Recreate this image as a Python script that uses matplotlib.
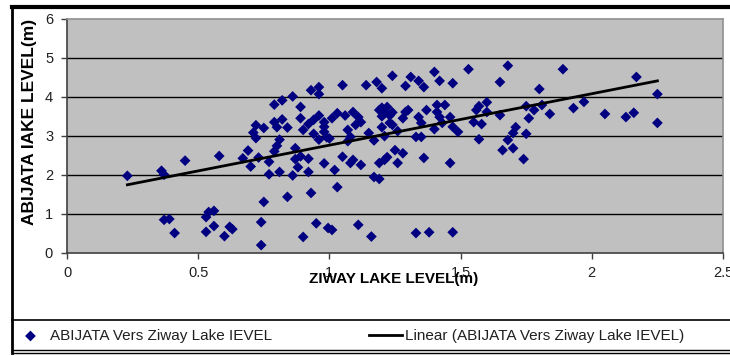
import matplotlib
matplotlib.use("Agg")
import matplotlib.pyplot as plt
from matplotlib.lines import Line2D

# Ziway (x) vs Abijata (y) lake levels, metres
ziway = [
    0.23, 0.36, 0.37, 0.45, 0.58, 0.37, 0.39, 0.41, 0.53, 0.54, 0.56, 0.53, 0.56,
    0.60, 0.62, 0.63, 0.74, 0.75, 0.74, 0.84, 0.93, 0.90, 0.95, 0.995, 1.01, 1.03,
    1.11, 1.16, 1.33, 1.38, 1.47,
    0.67, 0.69, 0.70, 0.73, 0.77, 0.72, 0.75, 0.71, 0.72, 0.79, 0.82, 0.86, 0.89,
    0.93, 0.96, 0.96, 0.79, 0.82, 0.80, 0.84, 0.89, 0.90, 0.92, 0.94, 0.96,
    0.94, 0.96, 0.98, 0.99, 0.98, 1.00, 0.98, 1.01, 1.03, 1.06, 1.09, 1.11, 1.12,
    1.07, 1.10, 1.08, 1.05, 1.14, 1.18, 1.20, 1.24, 1.15,
    0.79, 0.80, 0.81, 0.87, 0.87, 0.89, 0.92, 0.88, 0.77, 0.81, 0.86, 0.92,
    0.98, 1.02, 1.05, 1.08, 1.09, 1.12, 1.07, 1.17, 1.19, 1.19, 1.21, 1.22,
    1.17, 1.25, 1.19, 1.20, 1.22, 1.21, 1.23, 1.20, 1.24, 1.20, 1.23, 1.21,
    1.24,
    1.29, 1.31, 1.34, 1.36, 1.40, 1.42, 1.47, 1.53, 1.65, 1.68, 1.80, 1.89,
    2.17, 2.25, 2.25, 2.16, 2.13, 2.05, 1.97, 1.93, 1.84, 1.81, 1.78, 1.76,
    1.75, 1.71, 1.70, 1.68, 1.75, 1.70, 1.66, 1.74, 1.65, 1.60, 1.57, 1.56,
    1.60, 1.55, 1.58, 1.57, 1.46, 1.47, 1.49, 1.44, 1.41, 1.41, 1.42, 1.46,
    1.43, 1.40, 1.37, 1.35, 1.33, 1.35, 1.36, 1.34, 1.30, 1.29, 1.28, 1.26,
    1.28, 1.26,
]
abijata = [
    1.97, 2.10, 2.00, 2.36, 2.48, 0.84, 0.86, 0.50, 0.91, 1.04, 1.07, 0.53, 0.68,
    0.42, 0.66, 0.60, 0.78, 1.30, 0.19, 1.43, 1.53, 0.40, 0.75, 0.63, 0.58, 1.68,
    0.71, 0.41, 0.50, 0.52, 0.52,
    2.42, 2.62, 2.21, 2.44, 2.33, 3.27, 3.20, 3.08, 2.94, 3.80, 3.91, 4.01, 3.74,
    4.17, 4.25, 4.07, 3.35, 3.42, 3.22, 3.21, 3.45, 3.15, 3.30, 3.41, 3.52,
    3.05, 2.90, 3.10, 2.96, 3.23, 2.93, 3.35, 3.45, 3.58, 3.52, 3.61, 3.48, 3.35,
    3.15, 3.28, 2.97, 4.30, 4.30, 4.38, 4.22, 4.54, 3.07,
    2.60, 2.74, 2.90, 2.68, 2.40, 2.47, 2.41, 2.19, 2.01, 2.07, 1.98, 2.07,
    2.29, 2.12, 2.46, 2.30, 2.38, 2.25, 2.86, 1.94, 1.89, 2.30, 2.38, 2.45,
    2.88, 2.63, 3.66, 3.72, 3.74, 3.58, 3.52, 3.50, 3.60, 3.22, 3.33, 2.99,
    3.28,
    4.28, 4.51, 4.41, 4.25, 4.64, 4.41, 4.35, 4.71, 4.38, 4.80, 4.20, 4.71,
    4.51, 4.07, 3.33, 3.59, 3.48, 3.56, 3.87, 3.71, 3.56, 3.79, 3.66, 3.45,
    3.76, 3.22, 3.07, 2.89, 3.05, 2.68, 2.63, 2.40, 3.53, 3.86, 3.76, 3.66,
    3.61, 3.35, 3.30, 2.91, 3.48, 3.23, 3.10, 3.79, 3.79, 3.61, 3.48, 2.30,
    3.33, 3.17, 3.66, 3.33, 2.97, 2.97, 2.43, 3.48, 3.66, 3.61, 3.45, 3.12,
    2.55, 2.30,
]

# linear trend line end points
trend_x = [0.23, 2.25]
trend_y = [1.74, 4.41]

x_ticks = [0, 0.5, 1, 1.5, 2, 2.5]
x_tick_labels = ["0", "0.5", "1", "1.5", "2", "2.5"]
y_ticks = [0, 1, 2, 3, 4, 5, 6]

plt.rcParams["font.family"] = ["Liberation Sans", "DejaVu Sans"]

W, H = 730, 356
fig = plt.figure(figsize=(W / 100, H / 100), dpi=100)
ax = fig.add_axes([67 / W, 1 - 252.5 / H, (723 - 67) / W, (252.5 - 19) / H])
ax.set_facecolor("#c0c0c0")

for y in y_ticks[1:-1]:
    ax.axhline(y, color="black", lw=1.0, zorder=1)

pts = ax.scatter(ziway, abijata, marker="D", s=30, color="#000080",
                 edgecolors="none", zorder=3)
trend, = ax.plot(trend_x, trend_y, color="black", lw=2, zorder=4)

ax.set_xlim(0, 2.5)
ax.set_ylim(0, 6)
ax.set_xticks(x_ticks)
ax.set_xticklabels(x_tick_labels)
ax.set_yticks(y_ticks)
ax.tick_params(axis="both", direction="out", length=4, width=1,
               color="#404040", labelsize=10.5, labelcolor="#202020", pad=6)

for side in ["left", "bottom"]:
    ax.spines[side].set_color("#404040")
    ax.spines[side].set_linewidth(1.2)
for side in ["top", "right"]:
    ax.spines[side].set_color("#909090")
    ax.spines[side].set_linewidth(1.2)

fig.text(394 / W, 1 - 279 / H, "ZIWAY LAKE LEVEL(m)", fontsize=11,
         fontweight="bold", ha="center", va="center")
fig.text(30 / W, 1 - 122 / H, "ABIJATA IAKE LEVEL(m)", fontsize=12.5,
         fontweight="bold", ha="center", va="center", rotation=90)

# outer frame and legend strip
def hline(y, x0, x1, lw):
    fig.add_artist(Line2D([x0 / W, x1 / W], [1 - y / H, 1 - y / H],
                          color="black", lw=lw))

def vline(x, y0, y1, lw):
    fig.add_artist(Line2D([x / W, x / W], [1 - y0 / H, 1 - y1 / H],
                          color="black", lw=lw))

hline(7, 12, 730, 3)
vline(12, 6, 353, 2)
hline(320, 12, 730, 1.2)
hline(350, 12, 730, 1.0)
hline(353, 12, 730, 1.0)

fig.legend([pts, trend],
           ["ABIJATA Vers Ziway Lake IEVEL", "Linear (ABIJATA Vers Ziway Lake IEVEL)"],
           loc="center left", bbox_to_anchor=(6 / W, 1 - 336 / H), ncol=2,
           frameon=False, fontsize=11, handlelength=2.2, handletextpad=0.2,
           columnspacing=6.3, borderpad=0, scatterpoints=1,
           labelcolor="#202020")

fig.savefig("out.png", dpi=100)
